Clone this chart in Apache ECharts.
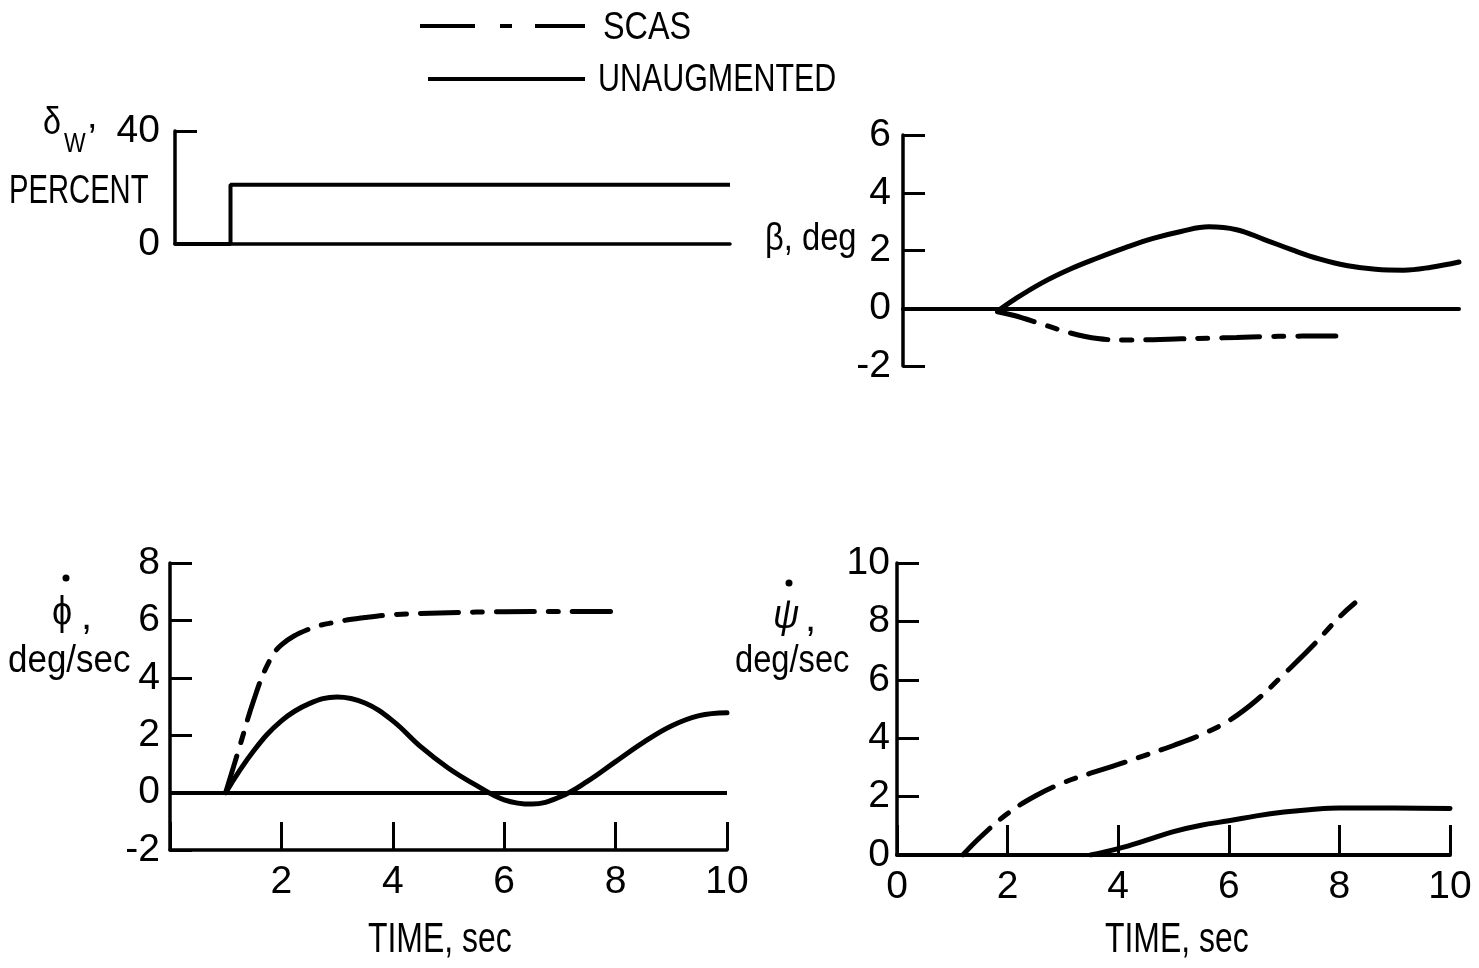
<!DOCTYPE html>
<html>
<head>
<meta charset="utf-8">
<script src="https://cdn.jsdelivr.net/npm/echarts@6/dist/echarts.min.js"></script>
<style>
  html, body { margin: 0; padding: 0; background: #fff; }
  #chart { width: 1479px; height: 968px; }
</style>
</head>
<body>
<div id="chart"></div>
<script>
// data (time in sec)

// wheel deflection step, percent
const deltaT = [0, 1, 1, 10];
const deltaW = [0, 0, 21, 21];

// sideslip, deg
const betaUnaugT = [1.7, 2.0, 2.5, 3.0, 3.5, 4.0, 4.5, 5.0, 5.5, 6.0, 6.5, 7.0, 7.5, 8.0, 8.5, 9.0, 9.5, 10];
const betaUnaug = [-0.1, 0.3, 0.88, 1.35, 1.74, 2.1, 2.42, 2.66, 2.82, 2.72, 2.38, 2.02, 1.7, 1.47, 1.35, 1.32, 1.42, 1.6];
const betaScasT = [1.7, 2.0, 2.5, 3.0, 3.5, 4.0, 4.5, 5.0, 5.5, 6.0, 6.5, 7.0, 7.5, 8.0];
const betaScas = [-0.12, -0.25, -0.55, -0.85, -1.05, -1.1, -1.09, -1.06, -1.04, -1.01, -0.98, -0.97, -0.96, -0.96];

// roll rate, deg/sec
const phiUnaugT = [1.0, 1.5, 2.0, 2.5, 3.0, 3.5, 4.0, 4.5, 5.0, 5.5, 6.0, 6.5, 7.0, 7.5, 8.0, 8.5, 9.0, 9.5, 10];
const phiUnaug = [0, 1.45, 2.5, 3.1, 3.33, 3.12, 2.5, 1.6, 0.85, 0.25, -0.25, -0.4, -0.15, 0.4, 1.08, 1.75, 2.32, 2.68, 2.78];
const phiScasT = [1.0, 1.25, 1.5, 1.75, 2.0, 2.5, 3.0, 3.5, 4.0, 5.0, 6.0, 7.0, 8.0];
const phiScas = [0, 1.6, 3.2, 4.45, 5.15, 5.7, 5.95, 6.1, 6.2, 6.27, 6.3, 6.31, 6.31];

// yaw rate, deg/sec
const psiScasT = [1.19, 1.5, 2.0, 2.5, 3.0, 3.5, 4.0, 4.5, 5.0, 5.5, 6.0, 6.5, 7.0, 7.5, 8.0, 8.28];
const psiScas = [0, 0.6, 1.42, 2.02, 2.47, 2.8, 3.1, 3.42, 3.75, 4.12, 4.6, 5.3, 6.2, 7.13, 8.15, 8.63];
const psiUnaugT = [3.5, 4.0, 4.5, 5.0, 5.5, 6.0, 6.5, 7.0, 7.5, 8.0, 9.0, 10];
const psiUnaug = [0, 0.22, 0.5, 0.8, 1.02, 1.17, 1.34, 1.47, 1.56, 1.61, 1.61, 1.59];

const FONT = "'Liberation Sans', Arial, sans-serif";
const BLACK = '#000';
const scasDash = [38, 14, 10, 14];
const LABEL_SIZE = 39;

function pairs(ts, vs) {
  return ts.map((t, i) => [t, vs[i]]);
}

function xAxisOf(grid, opts) {
  return Object.assign({
    gridIndex: grid,
    type: 'value',
    min: 0,
    max: 10,
    interval: 2,
    splitLine: { show: false },
    axisLine: { show: true, lineStyle: { color: BLACK, width: 3.5 } },
    axisTick: { show: false },
    axisLabel: { show: false }
  }, opts);
}

function yAxisOf(grid, min, max, interval, margin) {
  return {
    gridIndex: grid,
    type: 'value',
    min: min,
    max: max,
    interval: interval,
    splitLine: { show: false },
    axisLine: { show: true, onZero: false, lineStyle: { color: BLACK, width: 3.5 } },
    axisTick: { show: true, inside: true, length: 22, lineStyle: { color: BLACK, width: 3 } },
    // labels in the original sit a little below their ticks
    axisLabel: { color: BLACK, fontFamily: FONT, fontSize: LABEL_SIZE, margin: margin, padding: [10, 0, 0, 0] }
  };
}

function curve(name, grid, data, dashed) {
  return {
    name: name,
    type: 'line',
    xAxisIndex: grid,
    yAxisIndex: grid,
    data: data,
    smooth: 0.4,
    symbol: 'none',
    lineStyle: { color: BLACK, width: 5, type: dashed ? scasDash : 'solid', cap: 'round' },
    itemStyle: { color: BLACK },
    silent: true
  };
}

// condensed-looking text (the original lettering is a narrow face)
const txt = (text, x, y, size, align, sx, extra) => ({
  type: 'text',
  x: x, y: y,
  scaleX: sx || 0.82,
  style: Object.assign({
    text: text, x: 0, y: 0, fill: BLACK,
    font: size + 'px ' + FONT,
    textAlign: align || 'left', textVerticalAlign: 'middle'
  }, extra || {})
});

const dot = (x, y) => ({
  type: 'circle', shape: { cx: x, cy: y, r: 3.5 }, style: { fill: BLACK }
});

const chart = echarts.init(document.getElementById('chart'));

const bottomTimeLabels = {
  show: true, color: BLACK, fontFamily: FONT, fontSize: LABEL_SIZE, margin: 13
};

chart.setOption({
  animation: false,
  backgroundColor: '#fff',
  grid: [
    { left: 175, top: 131, width: 555, height: 113 },
    { left: 903, top: 135, width: 556, height: 231 },
    { left: 170, top: 563, width: 557, height: 287 },
    { left: 897, top: 563, width: 553, height: 292 }
  ],
  xAxis: [
    xAxisOf(0),
    xAxisOf(1, { axisLine: { show: true, onZero: true, lineStyle: { color: BLACK, width: 4 } } }),
    xAxisOf(2, {
      axisLine: { show: true, onZero: false, lineStyle: { color: BLACK, width: 3.5 } },
      axisTick: { show: true, inside: true, length: 28, lineStyle: { color: BLACK, width: 3 } },
      axisLabel: Object.assign({}, bottomTimeLabels, { formatter: v => (v === 0 ? '' : String(v)) })
    }),
    xAxisOf(3, {
      axisLine: { show: true, onZero: false, lineStyle: { color: BLACK, width: 4 } },
      axisTick: { show: true, inside: true, length: 30, lineStyle: { color: BLACK, width: 3 } },
      axisLabel: bottomTimeLabels
    })
  ],
  yAxis: [
    yAxisOf(0, 0, 40, 40, 15),
    yAxisOf(1, -2, 6, 2, 12),
    yAxisOf(2, -2, 8, 2, 10),
    yAxisOf(3, 0, 10, 2, 7)
  ],
  series: [
    {
      name: 'step', type: 'line', xAxisIndex: 0, yAxisIndex: 0,
      data: pairs(deltaT, deltaW), symbol: 'none', silent: true,
      lineStyle: { color: BLACK, width: 4 }
    },
    curve('UNAUGMENTED', 1, pairs(betaUnaugT, betaUnaug), false),
    curve('SCAS', 1, pairs(betaScasT, betaScas), true),
    Object.assign(curve('UNAUGMENTED', 2, pairs(phiUnaugT, phiUnaug), false), {
      markLine: {
        silent: true, symbol: 'none', label: { show: false },
        lineStyle: { color: BLACK, width: 4, type: 'solid' },
        data: [{ yAxis: 0 }]
      }
    }),
    curve('SCAS', 2, pairs(phiScasT, phiScas), true),
    curve('SCAS', 3, pairs(psiScasT, psiScas), true),
    curve('UNAUGMENTED', 3, pairs(psiUnaugT, psiUnaug), false)
  ],
  graphic: [
    // key
    { type: 'line', shape: { x1: 420, y1: 26, x2: 585, y2: 26 },
      style: { stroke: BLACK, lineWidth: 4, lineDash: [55, 25, 12, 23] } },
    { type: 'line', shape: { x1: 428, y1: 79, x2: 585, y2: 79 },
      style: { stroke: BLACK, lineWidth: 4 } },
    txt('SCAS', 603, 28, 39, 'left', 0.83),
    txt('UNAUGMENTED', 598, 80, 39, 'left', 0.78),
    // delta_w, percent
    txt('δ', 43, 124, 38, 'left', 0.85),
    txt('W', 64, 145, 27, 'left', 0.85),
    txt('’', 88, 141, 38, 'left', 1),
    txt('PERCENT', 9, 192, 40, 'left', 0.73),
    // beta, deg
    txt('β, deg', 765, 240, 38, 'left', 0.86),
    // phi dot
    txt('ϕ', 52, 614, 40, 'left', 0.9),
    dot(66, 578),
    txt(',', 81, 618, 40, 'left', 1),
    txt('deg/sec', 8, 662, 38, 'left', 0.92),
    // psi dot
    txt('ψ', 773, 617, 40, 'left', 0.9, { font: 'italic 40px ' + FONT }),
    dot(789, 583),
    txt(',', 805, 620, 40, 'left', 1),
    txt('deg/sec', 735, 662, 38, 'left', 0.86),
    // time titles
    txt('TIME, sec', 368, 940, 42, 'left', 0.76),
    txt('TIME, sec', 1105, 940, 42, 'left', 0.76)
  ]
});
</script>
</body>
</html>
